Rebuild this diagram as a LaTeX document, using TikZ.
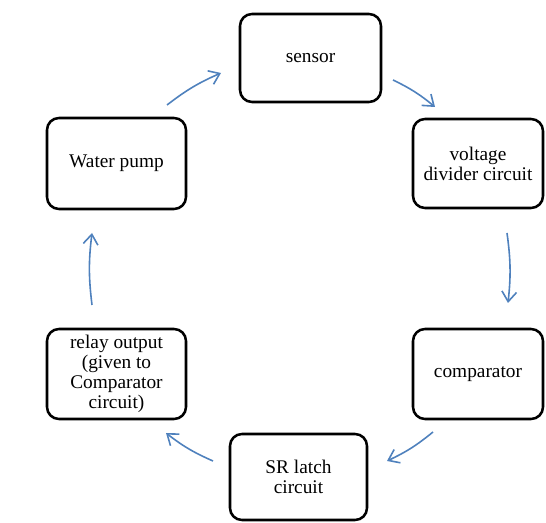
\documentclass[tikz,border=0pt]{standalone}
\usepackage{fontspec}
\setmainfont{Liberation Serif}
\usetikzlibrary{arrows.meta}
\definecolor{arrowblue}{HTML}{4F81BD}
\tikzset{
  box/.style={draw=black, line width=1.9pt, rounded corners=9pt, fill=white,
    align=center, inner sep=0pt, font=\fontsize{14.5}{15}\selectfont},
  flow/.style={draw=arrowblue, line width=1.2pt,
    -{Straight Barb[length=7.5pt,width=11pt,line width=1.2pt]}, bend left=7}
}
\begin{document}
\begin{tikzpicture}[x=0.75pt,y=0.75pt]
\useasboundingbox (0,0) rectangle (546,-523);
\node[box, minimum width=105.75pt, minimum height=66pt] (sensor) at (310.5,-58) {sensor};
\node[box, minimum width=104.25pt, minimum height=68.25pt] (pump) at (116.5,-163.5) {Water pump};
\node[box, minimum width=97.5pt, minimum height=66.75pt] (volt) at (478,-163.5) {voltage\\divider circuit};
\node[box, minimum width=104.25pt, minimum height=67.5pt] (relay) at (116.5,-374) {relay output\\(given to\\Comparator\\circuit)};
\node[box, minimum width=97.5pt, minimum height=67.5pt] (comp) at (478,-374) {comparator};
\node[box, minimum width=102.75pt, minimum height=64.5pt] (sr) at (298.5,-477) {SR latch\\circuit};

\coordinate (a1s) at (167,-105); \coordinate (a1e) at (221,-73);
\coordinate (a2s) at (393,-80);  \coordinate (a2e) at (435,-107);
\coordinate (a3s) at (507,-233); \coordinate (a3e) at (508,-303);
\coordinate (a4s) at (433,-432); \coordinate (a4e) at (387,-461);
\coordinate (a5s) at (213,-461); \coordinate (a5e) at (166,-433);
\coordinate (a6s) at (92,-305);  \coordinate (a6e) at (92,-233);

\draw[flow] (a1s) to (a1e);
\draw[flow] (a2s) to (a2e);
\draw[flow] (a3s) to (a3e);
\draw[flow] (a4s) to (a4e);
\draw[flow] (a5s) to (a5e);
\draw[flow] (a6s) to (a6e);
\end{tikzpicture}
\end{document}
